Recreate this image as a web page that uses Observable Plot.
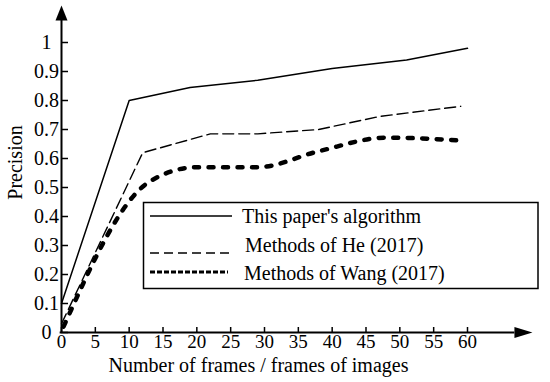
<!DOCTYPE html>
<html><head><meta charset="utf-8">
<script src="https://cdn.jsdelivr.net/npm/d3@7"></script>
<script src="https://cdn.jsdelivr.net/npm/@observablehq/plot@0.6"></script>
<style>body{margin:0;background:#fff} svg{display:block}</style>
</head><body><div id="chart"></div>
<script>
// ---- data ----
const seriesNames = ["This paper's algorithm", "Methods of He (2017)", "Methods of Wang (2017)"];
const thisX = [0, 10, 19, 29, 40, 51, 60];
const thisY = [0.1, 0.8, 0.845, 0.87, 0.91, 0.94, 0.98];
const heX = [0, 12, 22, 29, 38, 47, 59];
const heY = [0.03, 0.62, 0.685, 0.685, 0.70, 0.745, 0.78];
const wangX = [0.3, 13, 20, 29, 38, 48, 59];
const wangY = [0.02, 0.52, 0.57, 0.57, 0.625, 0.672, 0.662];
const xTicks = [0, 5, 10, 15, 20, 25, 30, 35, 40, 45, 50, 55, 60];
const yTicks = [0, 0.1, 0.2, 0.3, 0.4, 0.5, 0.6, 0.7, 0.8, 0.9, 1];
const yTickLabels = ["0", "0.1", "0.2", "0.3", "0.4", "0.5", "0.6", "0.7", "0.8", "0.9", "1"];
const xTitle = "Number of frames / frames of images";
const yTitle = "Precision";

const rows = (xs, ys) => xs.map((x, i) => ({x, y: ys[i]}));
const font = "'Liberation Serif', 'Times New Roman', serif";

const arrowUp = {draw(ctx) { ctx.moveTo(0, 0); ctx.lineTo(6, 15); ctx.lineTo(-6, 15); ctx.closePath(); }};
const arrowRight = {draw(ctx) { ctx.moveTo(0, 0); ctx.lineTo(-18, -5.5); ctx.lineTo(-18, 5.5); ctx.closePath(); }};

const plot = Plot.plot({
  width: 550, height: 382,
  marginLeft: 61, marginRight: 83, marginTop: 42, marginBottom: 50,
  style: {fontFamily: font, fontSize: "20px", color: "#000", background: "#fff"},
  x: {domain: [0, 60]},
  y: {domain: [0, 1]},
  marks: [
    Plot.ruleX([0], {y1: 0, y2: 1.08, stroke: "#000", strokeWidth: 2}),
    Plot.ruleY([0], {x1: -0.2, x2: 67, stroke: "#000", strokeWidth: 2}),
    Plot.dot([{x: 0, y: 1.128}], {x: "x", y: "y", symbol: arrowUp, fill: "#000", stroke: null}),
    Plot.dot([{x: 69.6, y: 0}], {x: "x", y: "y", symbol: arrowRight, fill: "#000", stroke: null}),
    Plot.axisY(yTicks, {tickSize: -7, tickFormat: () => "", strokeWidth: 1.5, label: null}),
    Plot.axisY(yTicks, {tickSize: 0, tickPadding: 15, textAnchor: "middle", fontSize: 20,
      tickFormat: (d) => yTickLabels[yTicks.indexOf(d)], label: null}),
    Plot.axisX(xTicks, {tickSize: -5, tickFormat: () => "", strokeWidth: 1.5, label: null}),
    Plot.axisX(xTicks, {tickSize: 0, tickPadding: 2, fontSize: 19, label: null}),
    Plot.text([yTitle], {frameAnchor: "left", dx: -46, dy: -25, rotate: -90, textAnchor: "middle", lineAnchor: "middle", fontSize: 20}),
    Plot.text([xTitle], {frameAnchor: "bottom", dx: -6, dy: 33, textAnchor: "middle", lineAnchor: "middle", fontSize: 20}),
    Plot.line(rows(thisX, thisY), {x: "x", y: "y", stroke: "#000", strokeWidth: 1.5}),
    Plot.line(rows(heX, heY), {x: "x", y: "y", stroke: "#000", strokeWidth: 1.4, strokeDasharray: "11,5"}),
    Plot.line(rows(wangX, wangY), {x: "x", y: "y", stroke: "#000", strokeWidth: 4.5, strokeDasharray: "5,9.5", strokeLinecap: "round", curve: "monotone-x"})
  ]
});
document.getElementById("chart").appendChild(plot);

// legend (inside plot area)
const svg = d3.select(plot);
const lg = svg.append("g").attr("font-family", font).attr("font-size", 20).attr("text-anchor", "start");
lg.append("rect").attr("x", 143.5).attr("y", 202.5).attr("width", 394.5).attr("height", 86)
  .attr("fill", "#fff").attr("stroke", "#000").attr("stroke-width", 1.5);
const items = [
  {y: 216, ty: 223, tx: 242, x2: 232, dash: null, w: 1.5},
  {y: 253, ty: 252, tx: 245, x2: 230, dash: "9,5", w: 1.4},
  {y: 272, ty: 280, tx: 244, x2: 228, dash: "5,2", w: 3}
];
items.forEach((it, i) => {
  lg.append("line").attr("x1", 150).attr("x2", it.x2).attr("y1", it.y).attr("y2", it.y)
    .attr("stroke", "#000").attr("stroke-width", it.w).attr("stroke-dasharray", it.dash);
  lg.append("text").attr("x", it.tx).attr("y", it.ty).attr("fill", "#000").text(seriesNames[i]);
});
</script>
</body></html>
